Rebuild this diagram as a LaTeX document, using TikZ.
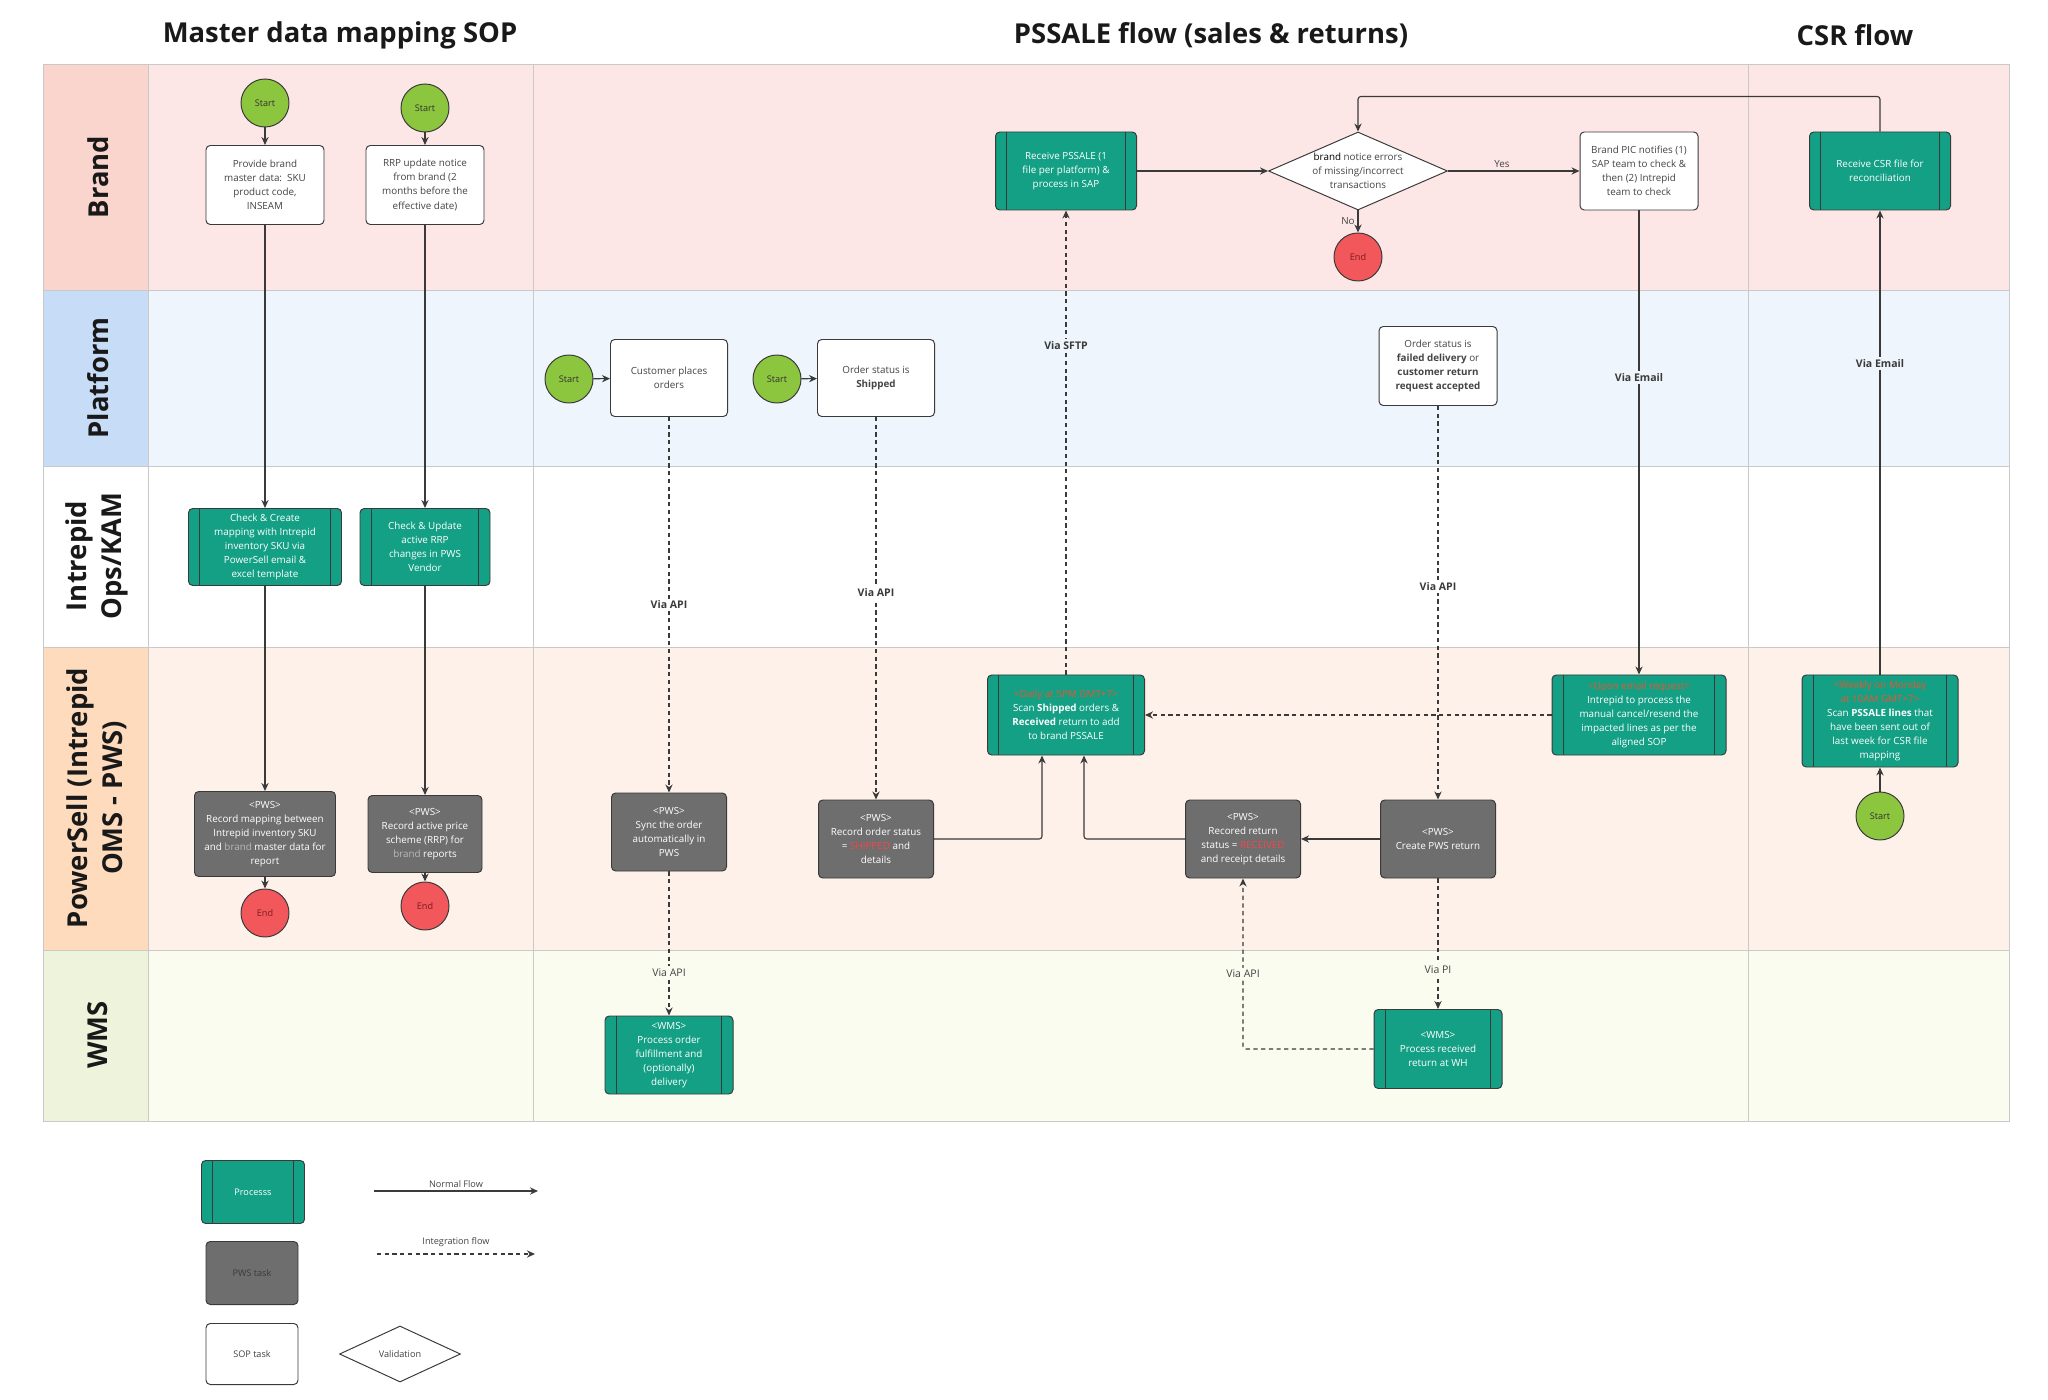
\documentclass[tikz,border=0pt]{standalone}
\usepackage{fontspec}
\setmainfont{Open Sans}
\usetikzlibrary{arrows.meta, positioning, shapes.geometric}
\definecolor{edgeDark}{HTML}{3A3A3A}
\definecolor{textGray}{HTML}{444444}
\definecolor{procGreen}{HTML}{14A085}
\definecolor{taskGray}{HTML}{6E6E6E}
\definecolor{startGreen}{HTML}{8CC63F}
\definecolor{endRed}{HTML}{F2575B}
\definecolor{endText}{HTML}{7A1D1D}
\definecolor{tagOrange}{HTML}{E4572E}
\definecolor{statRed}{HTML}{F0484E}
\definecolor{mutedText}{HTML}{B8B8B8}
\definecolor{gridGray}{HTML}{C9C9C9}
\definecolor{brandHead}{HTML}{FAD5CD}
\definecolor{brandBody}{HTML}{FDE7E6}
\definecolor{platHead}{HTML}{C6DCF7}
\definecolor{platBody}{HTML}{EEF5FC}
\definecolor{pwsHead}{HTML}{FDDBBC}
\definecolor{pwsBody}{HTML}{FDF1EA}
\definecolor{wmsHead}{HTML}{EEF3DC}
\definecolor{wmsBody}{HTML}{FBFCF0}
\newcommand{\boxfont}{\fontsize{7}{10}\selectfont}
\newcommand{\legfont}{\fontsize{6.5}{8}\selectfont}
\tikzset{
  flowA/.style={-{Stealth[length=2mm, width=1.8mm]}, edgeDark, line width=0.8pt},
  flowI/.style={-{Stealth[length=2mm, width=1.8mm]}, edgeDark, line width=0.8pt,
                dash pattern=on 3pt off 2.5pt},
  procBox/.style={rectangle, rounded corners=3pt, draw=edgeDark, line width=0.7pt,
                  fill=procGreen, text=white, align=center, font=\boxfont, inner sep=2pt,
                  path picture={\draw[edgeDark, line width=0.7pt]
                    ([xshift=2.8mm]path picture bounding box.north west) --
                    ([xshift=2.8mm]path picture bounding box.south west)
                    ([xshift=-2.8mm]path picture bounding box.north east) --
                    ([xshift=-2.8mm]path picture bounding box.south east);}},
  pwsBox/.style={rectangle, rounded corners=3pt, draw=edgeDark, line width=0.7pt,
                 fill=taskGray, text=white, align=center, font=\boxfont, inner sep=2pt},
  sopBox/.style={rectangle, rounded corners=3pt, draw=edgeDark, line width=0.7pt,
                 fill=white, text=textGray, align=center, font=\boxfont, inner sep=2pt},
  checkDia/.style={diamond, aspect=2.3, draw=edgeDark, line width=0.7pt, fill=white,
                   text=textGray, align=center, font=\boxfont, inner sep=0pt},
  startDot/.style={circle, draw=edgeDark, line width=0.7pt, fill=startGreen,
                   minimum size=12mm, inner sep=0pt, text=black!80,
                   font=\fontsize{6.5}{8}\selectfont},
  endDot/.style={circle, draw=edgeDark, line width=0.7pt, fill=endRed,
                 minimum size=12mm, inner sep=0pt, text=endText,
                 font=\fontsize{6.5}{8}\selectfont},
  viaLbl/.style={font=\fontsize{7.5}{9}\selectfont\bfseries, text=edgeDark, inner sep=1.5pt},
  viaThin/.style={font=\fontsize{7.5}{9}\selectfont, text=textGray, inner sep=1.5pt},
  yesNo/.style={font=\fontsize{7}{9}\selectfont, text=textGray, inner sep=2pt},
  legLbl/.style={font=\legfont, text=textGray, inner sep=2pt},
  laneLbl/.style={rotate=90, align=center, text=black!90,
                  font=\fontsize{19.5}{25}\selectfont\bfseries},
  colTitle/.style={text=black!90, font=\fontsize{19.5}{24}\selectfont\bfseries},
}

\begin{document}
\begin{tikzpicture}[x=0.25mm, y=-0.25mm, font=\boxfont]
  \useasboundingbox (0,0) rectangle (2048,1400);
  \fill[white] (0,0) rectangle (2048,1400);

  % swimlanes
  \fill[brandHead] (43,64) rectangle (148,290);
  \fill[brandBody] (148,64) rectangle (2009,290);
  \fill[platHead] (43,290) rectangle (148,466);
  \fill[platBody] (148,290) rectangle (2009,466);
  \fill[pwsHead] (43,647) rectangle (148,950);
  \fill[pwsBody] (148,647) rectangle (2009,950);
  \fill[wmsHead] (43,950) rectangle (148,1121);
  \fill[wmsBody] (148,950) rectangle (2009,1121);
  \draw[gridGray, line width=0.6pt] (43,64) rectangle (2009,1121)
    (43,290) -- (2009,290) (43,466) -- (2009,466)
    (43,647) -- (2009,647) (43,950) -- (2009,950)
    (148,64) -- (148,1121) (533,64) -- (533,1121) (1748,64) -- (1748,1121);

  \node[colTitle] (tMaster) at (340,35) {Master data mapping SOP};
  \node[colTitle] (tPssale) at (1211,35) {PSSALE flow (sales \& returns)};
  \node[colTitle] (tCsr) at (1855,35) {CSR flow};

  \node[laneLbl] (lBrand) at (98,177) {Brand};
  \node[laneLbl] (lPlat) at (98,378) {Platform};
  \node[laneLbl] (lOps) at (97,556) {Intrepid\\Ops/KAM};
  \node[laneLbl] (lPws) at (97,798) {PowerSell (Intrepid\\OMS - PWS)};
  \node[laneLbl] (lWms) at (98,1035) {WMS};

  % master data mapping SOP
  \node[startDot] (start1) at (265,103) {Start};
  \node[startDot] (start2) at (425,108) {Start};
  \node[sopBox, minimum width=29.5mm, minimum height=19.75mm] (prov) at (265,185)
    {Provide brand\\master data:\ \ SKU\\product code,\\INSEAM};
  \node[sopBox, minimum width=29.5mm, minimum height=19.75mm] (rrp) at (425,185)
    {RRP update notice\\from brand (2\\months before the\\effective date)};
  \node[procBox, minimum width=38.25mm, minimum height=19.25mm] (chkmap) at (265,547)
    {Check \& Create\\mapping with Intrepid\\inventory SKU via\\PowerSell email \&\\excel template};
  \node[procBox, minimum width=32.5mm, minimum height=19.25mm] (chkrrp) at (425,547)
    {Check \& Update\\active RRP\\changes in PWS\\Vendor};
  \node[pwsBox, minimum width=35.25mm, minimum height=21.25mm] (recmap) at (265,834)
    {<PWS>\\Record mapping between\\Intrepid inventory SKU\\and {\color{mutedText}brand} master data for\\report};
  \node[pwsBox, minimum width=28.5mm, minimum height=19.25mm] (recrrp) at (425,834)
    {<PWS>\\Record active price\\scheme (RRP) for\\{\color{mutedText}brand} reports};
  \node[endDot] (end1) at (265,913) {End};
  \node[endDot] (end2) at (425,906) {End};

  \draw[flowA] (start1) -- (prov);
  \draw[flowA] (prov) -- (chkmap);
  \draw[flowA] (chkmap) -- (recmap);
  \draw[flowA] (recmap) -- (end1);
  \draw[flowA] (start2) -- (rrp);
  \draw[flowA] (rrp) -- (chkrrp);
  \draw[flowA] (chkrrp) -- (recrrp);
  \draw[flowA] (recrrp) -- (end2);

  % PSSALE flow
  \node[startDot] (start3) at (569,379) {Start};
  \node[sopBox, minimum width=29.25mm, minimum height=19.25mm] (cust) at (669,378)
    {Customer places\\orders};
  \node[startDot] (start4) at (777,379) {Start};
  \node[sopBox, minimum width=29.25mm, minimum height=19.25mm] (shipd) at (876,378)
    {Order status is\\\textbf{Shipped}};
  \node[pwsBox, minimum width=28.75mm, minimum height=19.5mm] (sync) at (669,832)
    {<PWS>\\Sync the order\\automatically in\\PWS};
  \node[pwsBox, minimum width=28.75mm, minimum height=19.5mm] (recship) at (876,839)
    {<PWS>\\Record order status\\= {\color{statRed}SHIPPED} and\\details};
  \node[procBox, minimum width=32mm, minimum height=19.5mm] (wmsord) at (669,1055)
    {<WMS>\\Process order\\fulfillment and\\(optionally)\\delivery};
  \node[procBox, minimum width=35.25mm, minimum height=19.5mm] (pssale) at (1066,171)
    {Receive PSSALE (1\\file per platform) \&\\process in SAP};
  \node[checkDia, minimum width=44.75mm, minimum height=19.5mm] (errchk) at (1358,171)
    {{\color{black}brand} notice errors\\of missing/incorrect\\transactions};
  \node[endDot] (endchk) at (1358,257) {End};
  \node[sopBox, minimum width=29.5mm, minimum height=19.5mm] (pic) at (1639,171)
    {Brand PIC notifies (1)\\SAP team to check \&\\then (2) Intrepid\\team to check};
  \node[sopBox, minimum width=29.5mm, minimum height=19.75mm] (faild) at (1438,366)
    {Order status is\\\textbf{failed delivery} or\\\textbf{customer return}\\\textbf{request accepted}};
  \node[procBox, minimum width=39.25mm, minimum height=20mm] (daily) at (1066,715)
    {{\color{tagOrange}<Daily at 5PM GMT+7>}\\Scan \textbf{Shipped} orders \&\\\textbf{Received} return to add\\to brand PSSALE};
  \node[procBox, minimum width=43.5mm, minimum height=20mm] (upon) at (1639,715)
    {{\color{tagOrange}<Upon email request>}\\Intrepid to process the\\manual cancel/resend the\\impacted lines as per the\\aligned SOP};
  \node[pwsBox, minimum width=28.75mm, minimum height=19.5mm] (recret) at (1243,839)
    {<PWS>\\Recored return\\status = {\color{statRed}RECEIVED}\\and receipt details};
  \node[pwsBox, minimum width=28.75mm, minimum height=19.5mm] (crret) at (1438,839)
    {<PWS>\\Create PWS return};
  \node[procBox, minimum width=32mm, minimum height=19.75mm] (wmsret) at (1438,1049)
    {<WMS>\\Process received\\return at WH};

  \draw[flowA] (start3) -- (cust);
  \draw[flowI] (cust) -- node[viaLbl, fill=white] {Via API} (sync);
  \draw[flowI] (sync) -- node[viaThin, fill=wmsBody, pos=0.7] {Via API} (wmsord);
  \draw[flowA] (start4) -- (shipd);
  \draw[flowI] (shipd) -- node[viaLbl, fill=white, pos=0.46] {Via API} (recship);
  \draw[flowA, rounded corners=2pt] (recship.east) -| ([xshift=-6mm]daily.south);
  \draw[flowA, rounded corners=2pt] (recret.west) -| ([xshift=4.5mm]daily.south);
  \draw[flowI] (faild) -- node[viaLbl, fill=white, pos=0.46] {Via API} (crret);
  \draw[flowA] (crret) -- (recret);
  \draw[flowI] (crret) -- node[viaThin, fill=wmsBody, pos=0.7] {Via PI} (wmsret);
  \draw[flowI, rounded corners=2pt] (wmsret.west) -| node[viaThin, fill=wmsBody, pos=0.72] {Via API} (recret.south);
  \draw[flowI] (upon) -- (daily);
  \draw[flowI] (daily) -- node[viaLbl, fill=platBody, pos=0.71] {Via SFTP} (pssale);
  \draw[flowA] (pssale) -- (errchk);
  \draw[flowA] (errchk) -- node[yesNo, above, pos=0.41] {Yes} (pic);
  \draw[flowA] (errchk) -- node[yesNo, left] {No} (endchk);
  \draw[flowA] (pic) -- node[viaLbl, fill=platBody, pos=0.36] {Via Email} (upon);

  % CSR flow
  \node[procBox, minimum width=35.25mm, minimum height=19.5mm] (csr) at (1880,171)
    {Receive CSR file for\\reconciliation};
  \node[procBox, minimum width=39mm, minimum height=23mm] (weekly) at (1880,721)
    {{\color{tagOrange}<Weekly on Monday}\\{\color{tagOrange}at 10AM GMT+7>}\\Scan \textbf{PSSALE lines} that\\have been sent out of\\last week for CSR file\\mapping};
  \node[startDot] (start5) at (1880,816) {Start};

  \draw[flowA] (start5) -- (weekly);
  \draw[flowA] (weekly) -- node[viaLbl, fill=platBody, pos=0.67] {Via Email} (csr);
  \draw[flowA, rounded corners=2pt] (csr.north) -- ++(0,-35) -| (errchk.north);

  % legend
  \node[procBox, minimum width=25.75mm, minimum height=15.75mm, font=\legfont] (lgProc) at (253,1192) {Processs};
  \node[pwsBox, minimum width=23mm, minimum height=15.75mm, font=\legfont, text=edgeDark] (lgPws) at (252,1273) {PWS task};
  \node[sopBox, minimum width=23mm, minimum height=15.25mm, font=\legfont] (lgSop) at (252,1354) {SOP task};
  \node[checkDia, minimum width=30.25mm, minimum height=14mm, font=\legfont] (lgVal) at (400,1354) {Validation};
  \coordinate (nfA) at (374,1191);
  \coordinate (nfB) at (538,1191);
  \coordinate (ifA) at (377,1254);
  \coordinate (ifB) at (535,1254);
  \draw[flowA] (nfA) -- node[legLbl, above] {Normal Flow} (nfB);
  \draw[flowI, line width=1pt] (ifA) -- node[legLbl, above=3pt] {Integration flow} (ifB);
\end{tikzpicture}
\end{document}
